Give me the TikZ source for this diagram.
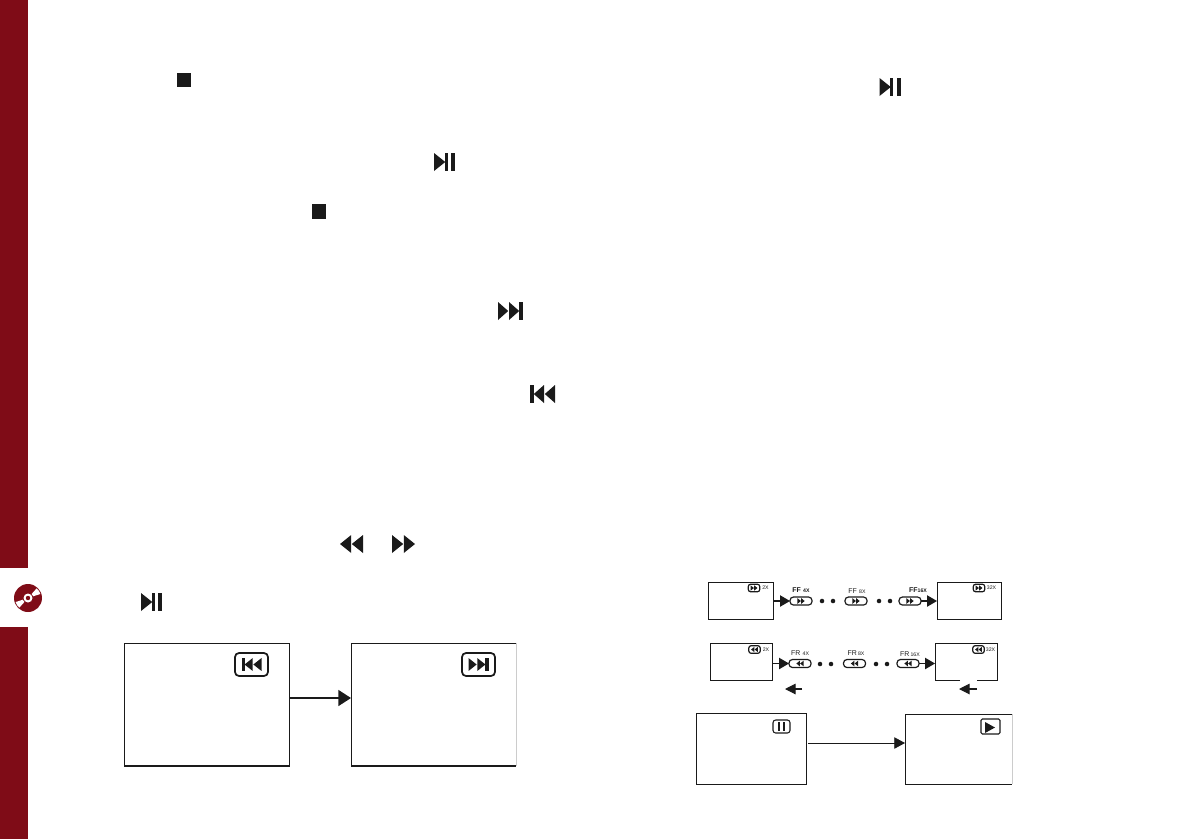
\documentclass[tikz,border=0pt]{standalone}
\usepackage{fontspec}
\setmainfont{Liberation Sans}
\usetikzlibrary{arrows.meta}
\definecolor{sidered}{HTML}{7F0C17}
\definecolor{ink}{HTML}{1A1A1A}
\newcommand{\smalltag}{\fontsize{3.9}{4.5}\selectfont}
\tikzset{
  frame/.style 2 args={inner sep=0pt,outer sep=0pt,minimum width=#1*0.75pt,minimum height=#2*0.75pt},
  screen/.style={draw=ink,line width=0.75pt},
  thinscreen/.style={draw=ink,line width=0.65pt},
  edgeline/.style={draw=ink,line width=0.75pt,line join=miter},
  baseline/.style={draw=ink,line width=1.3pt},
  fadeedge/.style={draw=black!20,line width=0.7pt},
  badge/.style={draw=ink,line width=1.3pt,rounded corners=3pt},
  pill/.style={draw=ink,line width=0.9pt,rounded corners=2.6pt,inner sep=0pt,outer sep=0pt,minimum width=16.5pt,minimum height=6pt},
  minibadge/.style={draw=ink,line width=0.9pt,rounded corners=1.6pt,inner sep=0pt,outer sep=0pt,minimum width=8.5pt,minimum height=5.6pt},
  lbl/.style={inner sep=0pt,text=ink,font=\fontsize{5.2}{6}\selectfont},
  tiny/.style={inner sep=0pt,text=ink,font=\smalltag},
  bigarrow/.style={draw=ink,line width=1.1pt,-{Triangle[length=9.5pt,width=12pt,fill=ink]}},
  midarrow/.style={draw=ink,line width=0.9pt,-{Triangle[length=7.5pt,width=8.5pt,fill=ink]}},
  smallarrow/.style={draw=ink,line width=0.8pt,-{Triangle[length=8pt,width=8pt,fill=ink]}},
  dotmark/.style={circle,fill=ink,inner sep=0pt,minimum size=3.4pt},
  pics/nextg/.style={code={
    \fill[ink] (-12.5,-9) -- (-2.3,0) -- (-12.5,9) -- cycle;
    \fill[ink] (-1.5,-9) -- (8.7,0) -- (-1.5,9) -- cycle;
    \fill[ink] (8.5,-9) rectangle (12.5,9);}},
  pics/ffg/.style={code={
    \fill[ink] (-11.5,-9) -- (-0.3,0) -- (-11.5,9) -- cycle;
    \fill[ink] (0.3,-9) -- (11.5,0) -- (0.3,9) -- cycle;}},
  pics/ppg/.style={code={
    \fill[ink] (-10.5,-9) -- (0.8,0) -- (-10.5,9) -- cycle;
    \fill[ink] (0.4,-9) rectangle (3.2,9);
    \fill[ink] (6.5,-9) rectangle (10.5,9);}},
}
\begin{document}
\begin{tikzpicture}[x=0.75pt,y=-0.75pt]
\useasboundingbox (0,0) rectangle (1191,839);
% side band
\fill[sidered] (0,0) rectangle (28,568);
\fill[sidered] (0,627) rectangle (28,839);
\fill[sidered] (28,598) circle[radius=14];
\fill[white] (28,598) ++(-18:5.5) -- ++(-18:7.5) arc[start angle=-18,end angle=-48,radius=13] -- ++(-48:-7.5) arc[start angle=-48,end angle=-18,radius=5.5] -- cycle;
\fill[white] (28,598) ++(162:5.5) -- ++(162:7.5) arc[start angle=162,end angle=132,radius=13] -- ++(132:-7.5) arc[start angle=132,end angle=162,radius=5.5] -- cycle;
\fill[white] (28,598) circle[radius=4.5];
\fill[sidered] (28,598) circle[radius=2.2];
% inline button glyphs
\fill[ink] (177,73) rectangle (191,87);
\fill[ink] (312,204) rectangle (326,219);
\pic at (444.5,162) {ppg};
\pic at (510.5,311) {nextg};
\pic[xscale=-1] at (542.5,394) {nextg};
\pic[xscale=-1] at (351.5,544) {ffg};
\pic at (403.5,544) {ffg};
\pic at (151.5,602) {ppg};
\pic at (890,87) {ppg};
% previous / next screens
\node[frame={165}{123},screen] (prevscr) at (206.5,704.5) {};
\draw[baseline] (prevscr.south west) -- (prevscr.south east);
\node[frame={165}{123}] (nextscr) at (433.5,704.5) {};
\draw[edgeline] (nextscr.north east) -- (nextscr.north west) -- (nextscr.south west);
\draw[baseline] (nextscr.south west) -- (nextscr.south east);
\draw[fadeedge] (nextscr.north east) -- (nextscr.south east);
\coordinate (skiplevel) at (320,698);
\draw[bigarrow] (prevscr.east |- skiplevel) -- (nextscr.west |- skiplevel);
\node[frame={33}{23},badge] (prevbadge) at (251.5,664.5) {};
\pic[xscale=-0.8,yscale=0.72] at (251.5,664.5) {nextg};
\node[frame={33}{23},badge] (nextbadge) at (478.5,664.5) {};
\pic[xscale=0.8,yscale=0.72] at (478.5,664.5) {nextg};
% fast forward row
\node[frame={65}{37},thinscreen] (ffa) at (740.5,600.5) {};
\node[minibadge] (ffai) at (754,588) {};
\pic[scale=0.3] at (754,588) {ffg};
\node[tiny] (ffat) at (765.5,588) {2X};
\node[pill] (ffp1) at (801,601) {};
\pic[scale=0.32] at (801,601) {ffg};
\node[lbl] (ffl1) at (801,590) {\bfseries FF\,\,{\smalltag 4X}};
\node[dotmark] (ffd1) at (822,601) {};
\node[dotmark] (ffd2) at (833,601) {};
\node[pill] (ffp2) at (856,601) {};
\pic[scale=0.32] at (856,601) {ffg};
\node[lbl] (ffl2) at (857,591) {FF\,\,{\smalltag 8X}};
\node[dotmark] (ffd3) at (879,601) {};
\node[dotmark] (ffd4) at (890,601) {};
\node[pill] (ffp3) at (910,601) {};
\pic[scale=0.32] at (910,601) {ffg};
\node[lbl] (ffl3) at (918,590) {\bfseries FF{\smalltag 16X}};
\node[frame={64}{37},thinscreen] (ffb) at (969,600.5) {};
\node[minibadge] (ffbi) at (979,588) {};
\pic[scale=0.3] at (979,588) {ffg};
\node[tiny] (ffbt) at (991.5,588) {32X};
\draw[midarrow] (ffa.east |- ffp1.west) -- (ffp1.west);
\draw[midarrow] (ffp3.east) -- (ffb.west |- ffp3.east);
% fast reverse row
\node[frame={62}{37},thinscreen] (fra) at (741,661.5) {};
\node[minibadge] (frai) at (754.5,649.5) {};
\pic[xscale=-0.3,yscale=0.3] at (754.5,649.5) {ffg};
\node[tiny] (frat) at (766,650) {2X};
\node[pill] (frp1) at (800,663.5) {};
\pic[xscale=-0.32,yscale=0.32] at (800,663.5) {ffg};
\node[lbl] (frl1) at (800,653) {FR\,\,{\smalltag 4X}};
\node[dotmark] (frd1) at (820,664) {};
\node[dotmark] (frd2) at (831,664) {};
\node[pill] (frp2) at (854.5,663.5) {};
\pic[xscale=-0.32,yscale=0.32] at (854.5,663.5) {ffg};
\node[lbl] (frl2) at (856,653) {FR\,{\smalltag 8X}};
\node[dotmark] (frd3) at (876,664) {};
\node[dotmark] (frd4) at (887,664) {};
\node[pill] (frp3) at (908,663.5) {};
\pic[xscale=-0.32,yscale=0.32] at (908,663.5) {ffg};
\node[lbl] (frl3) at (910,654) {FR\,{\smalltag 16X}};
\node[frame={62}{37}] (frb) at (966,661.5) {};
\draw[draw=ink,line width=0.65pt] (960,680) -- (frb.south west) -- (frb.north west) -- (frb.north east) -- (frb.south east) -- (977,680);
\node[minibadge] (frbi) at (978.5,649.5) {};
\pic[xscale=-0.3,yscale=0.3] at (978.5,649.5) {ffg};
\node[tiny] (frbt) at (990.5,650) {32X};
\draw[midarrow] (fra.east |- frp1.west) -- (frp1.west);
\draw[midarrow] (frp3.east) -- (frb.west |- frp3.east);
\coordinate (backa1) at (802,689);
\coordinate (backa2) at (785,689);
\coordinate (backb1) at (977,689);
\coordinate (backb2) at (959,689);
\draw[smallarrow] (backa1) -- (backa2);
\draw[smallarrow] (backb1) -- (backb2);
% pause / play screens
\node[frame={110}{71},thinscreen] (pausescr) at (751,748.5) {};
\node[frame={107}{70}] (playscr) at (958.5,749) {};
\draw[draw=ink,line width=0.65pt] (playscr.north east) -- (playscr.north west) -- (playscr.south west) -- (playscr.south east);
\draw[fadeedge] (playscr.north east) -- (playscr.south east);
\coordinate (pauselevel) at (808,743);
\draw[draw=ink,line width=0.6pt,-{Triangle[length=8pt,width=8.5pt,fill=ink]}] (pauselevel) -- (playscr.west |- pauselevel);
\node[frame={17}{13},draw=ink,line width=0.8pt,rounded corners=2pt] (pausebadge) at (781.5,726.5) {};
\draw[ink,line width=1pt] (779,722) -- (779,731);
\draw[ink,line width=1pt] (784,722) -- (784,731);
\node[frame={19}{15},draw=ink,line width=0.8pt,rounded corners=1pt] (playbadge) at (990.5,726.5) {};
\fill[ink] (985,722) -- (995,727.5) -- (985,733) -- cycle;
\end{tikzpicture}
\end{document}
